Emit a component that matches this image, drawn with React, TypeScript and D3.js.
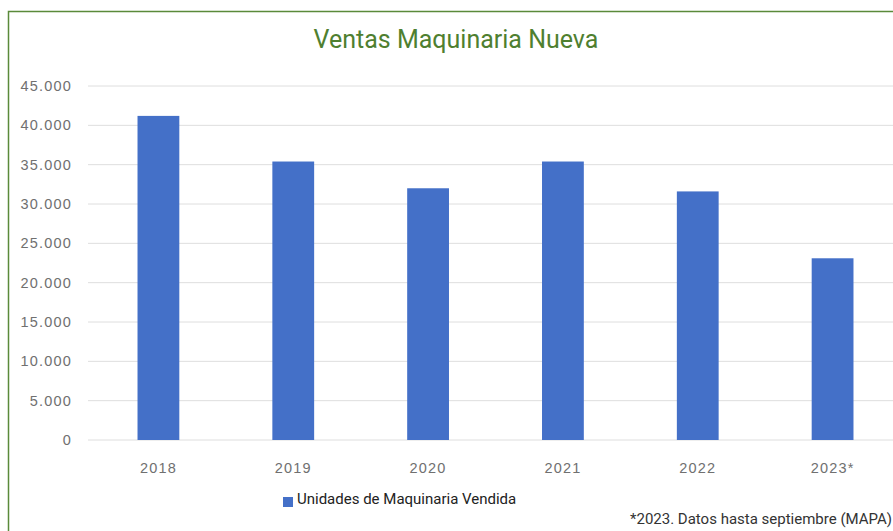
import React, { useRef, useEffect } from "react";
import * as d3 from "d3";

const years = ["2018", "2019", "2020", "2021", "2022", "2023*"];
const unitsSold = [41200, 35400, 32000, 35400, 31600, 23100];
const yTicks = [0, 5000, 10000, 15000, 20000, 25000, 30000, 35000, 40000, 45000];

const W = 893;
const H = 531;

const App = () => {
  const ref = useRef<SVGSVGElement>(null);

  useEffect(() => {
    const svg = d3.select(ref.current);
    svg.selectAll("*").remove();

    const x = d3.scaleBand().domain(years).range([91, 900]).paddingInner(0.69).paddingOuter(0.345);
    const y = d3.scaleLinear().domain([0, 45000]).range([440, 86]);
    const fmt = (v: number) => d3.format(",")(v).replace(/,/g, ".");

    // frame
    svg.append("rect").attr("x", 8.5).attr("y", 11.5).attr("width", 900).attr("height", 540)
      .attr("fill", "#fff").attr("stroke", "#5a8a3a").attr("stroke-width", 1.5);

    svg.append("text").attr("x", 456).attr("y", 48).attr("text-anchor", "middle")
      .attr("font-family", "Roboto, sans-serif").attr("font-size", 25).attr("fill", "#4f7f30")
      .text("Ventas Maquinaria Nueva");

    // grid + y labels
    const g = svg.append("g");
    g.selectAll("line").data(yTicks).enter().append("line")
      .attr("x1", 88).attr("x2", W).attr("y1", d => y(d)).attr("y2", d => y(d))
      .attr("stroke", "#dedede").attr("stroke-width", 1);
    g.selectAll("text").data(yTicks).enter().append("text")
      .attr("x", 72).attr("y", d => y(d) + 5).attr("text-anchor", "end")
      .attr("font-family", "'Liberation Sans', sans-serif").attr("font-size", 14.5)
      .attr("letter-spacing", 1.2)
      .attr("fill", "#707070").text(d => fmt(d));

    svg.selectAll("rect.bar").data(unitsSold).enter().append("rect").attr("class", "bar")
      .attr("x", (d, i) => x(years[i])!).attr("width", x.bandwidth())
      .attr("y", d => y(d)).attr("height", d => y(0) - y(d)).attr("fill", "#4470c8");

    svg.selectAll("text.xl").data(years).enter().append("text").attr("class", "xl")
      .attr("x", d => x(d)! + x.bandwidth() / 2).attr("y", 473).attr("text-anchor", "middle")
      .attr("font-family", "'Liberation Sans', sans-serif").attr("font-size", 14.5)
      .attr("letter-spacing", 1.2)
      .attr("fill", "#707070").text(d => d);

    // legend
    svg.append("rect").attr("x", 283).attr("y", 497).attr("width", 10).attr("height", 10).attr("fill", "#4470c8");
    svg.append("text").attr("x", 297).attr("y", 504)
      .attr("font-family", "Roboto, sans-serif").attr("font-size", 15).attr("fill", "#222")
      .text("Unidades de Maquinaria Vendida");

    svg.append("text").attr("x", 630).attr("y", 524)
      .attr("font-family", "Roboto, sans-serif").attr("font-size", 15).attr("fill", "#333")
      .text("*2023. Datos hasta septiembre (MAPA)");
  }, []);

  return (
    <svg ref={ref} width={W} height={H} style={{ position: "absolute", left: 0, top: 0 }}></svg>
  );
};

export default App;
